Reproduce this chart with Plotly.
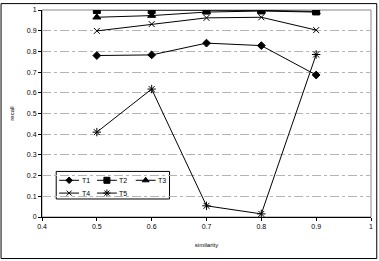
import plotly.graph_objects as go

similarity = [0.5, 0.6, 0.7, 0.8, 0.9]
T1 = [0.78, 0.783, 0.84, 0.828, 0.686]
T2 = [1.0, 1.0, 0.998, 0.998, 0.993]
T3 = [0.965, 0.973, 0.99, 0.995, 0.99]
T4 = [0.899, 0.932, 0.962, 0.965, 0.903]
T5 = [0.41, 0.618, 0.054, 0.015, 0.785]

names = ["T1", "T2", "T3", "T4", "T5"]
values = [T1, T2, T3, T4, T5]
symbols = ["diamond", "square", "triangle-up", "x-thin-open", "asterisk-open"]
sizes = [6, 7, 7, 6, 7]

W, H = 379, 261
L, R, T, B = 41.7, 6.3, 7, 43.7
pw, ph = W - L - R, H - T - B

def px_x(p):
    return (p - L) / pw

def px_y(p):
    return (H - B - p) / ph

def dx(p):
    return 0.4 + px_x(p) * 0.6

def dy(p):
    return px_y(p)

fig = go.Figure()
for name, vals, sym, sz in zip(names, values, symbols, sizes):
    fig.add_trace(go.Scatter(
        x=similarity, y=vals, name=name, mode="lines+markers",
        line=dict(color="black", width=1),
        marker=dict(symbol=sym, size=sz, color="black",
                    line=dict(color="black", width=1)),
        showlegend=False,
    ))

# custom legend (pixel-based overlay axes)
leg_pos = [(59, 180), (97, 180), (136, 180), (59, 193), (97, 193)]
annotations = []
for (lx, ly), name, sym, sz in zip(leg_pos, names, symbols, sizes):
    fig.add_trace(go.Scatter(
        x=[lx, lx + 20], y=[ly, ly], mode="lines",
        line=dict(color="black", width=1), xaxis="x2", yaxis="y2",
        showlegend=False, hoverinfo="skip",
    ))
    fig.add_trace(go.Scatter(
        x=[lx + 10], y=[ly], mode="markers",
        marker=dict(symbol=sym, size=sz - 1, color="black",
                    line=dict(color="black", width=1)),
        xaxis="x2", yaxis="y2", showlegend=False, hoverinfo="skip",
    ))
    annotations.append(dict(
        x=lx + 20.5, y=ly, xref="x2", yref="y2", text=name, showarrow=False,
        xanchor="left", yanchor="middle",
        font=dict(family="Liberation Sans, Arial, sans-serif", size=7, color="black"),
    ))

font = dict(family="Liberation Sans, Arial, sans-serif", size=7, color="black")

fig.update_layout(
    width=W, height=H,
    margin=dict(l=L, r=R, t=T, b=B, pad=0),
    paper_bgcolor="white", plot_bgcolor="white",
    font=font,
    showlegend=False,
    xaxis=dict(
        range=[0.4, 1.0], dtick=0.1, tick0=0.4,
        showgrid=False, zeroline=False,
        showline=True, linecolor="black", linewidth=1,
        ticks="outside", ticklen=3, tickcolor="black",
        title=dict(text="similarity", font=dict(size=6, color="black"), standoff=13),
    ),
    yaxis=dict(
        range=[0, 1.0], dtick=0.1, tick0=0,
        showgrid=True, gridcolor="#b4b4b4", griddash="dashdot", gridwidth=1,
        zeroline=False,
        showline=True, linecolor="black", linewidth=1,
        ticks="outside", ticklen=3, tickcolor="black",
        title=dict(text="recall", font=dict(size=6, color="black"), standoff=11),
    ),
    xaxis2=dict(range=[L, W - R], overlaying="x", visible=False, fixedrange=True),
    yaxis2=dict(range=[H - B, T], overlaying="y", visible=False, fixedrange=True),
    annotations=annotations,
    shapes=[
        dict(type="rect", xref="paper", yref="paper", x0=0, x1=1, y0=0, y1=1,
             line=dict(color="#888888", width=1), layer="below"),
        dict(type="rect", xref="paper", yref="paper",
             x0=px_x(0.5), x1=px_x(378.5), y0=px_y(259.5), y1=px_y(0.5),
             line=dict(color="black", width=1)),
        dict(type="rect", xref="x", yref="y", x0=dx(56), x1=dx(170),
             y0=dy(199), y1=dy(171),
             line=dict(color="black", width=1), fillcolor="white", layer="below"),
    ],
)

fig.write_html("out.html")
